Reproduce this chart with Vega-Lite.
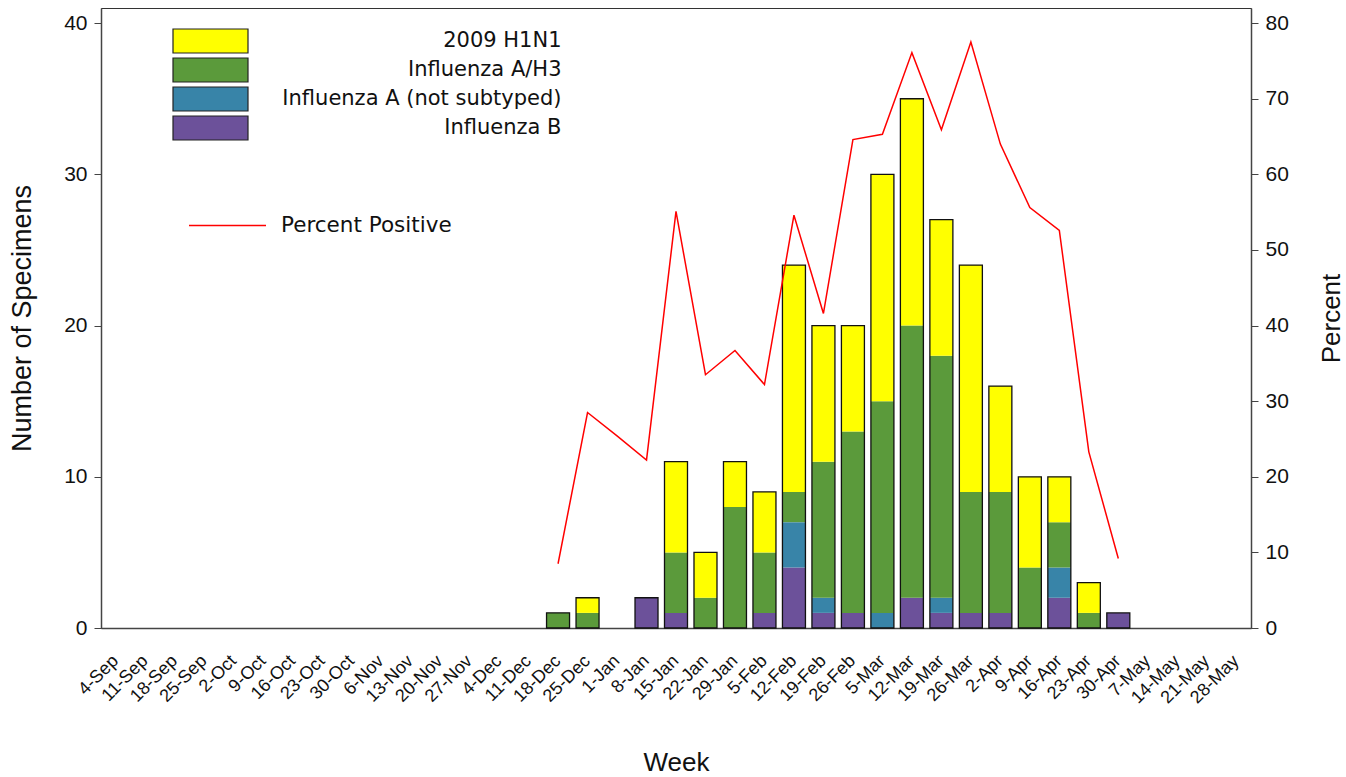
{
  "$schema": "https://vega.github.io/schema/vega-lite/v6.json",
  "autosize": {"type": "none"},
  "padding": {"left": 101, "top": 8, "right": 95, "bottom": 149},
  "width": 1150,
  "height": 620,
  "config": {
    "view": {"stroke": "#333333", "strokeWidth": 1},
    "axis": {"labelFont": "Liberation Sans", "titleFont": "Liberation Sans", "domainColor": "#444444", "tickColor": "#444444", "labelColor": "#111111", "titleColor": "#111111", "titleFontWeight": "normal", "grid": false},
    "legend": {"labelFont": "DejaVu Sans", "labelColor": "#111111"}
  },
  "datasets": {
    "counts": [
      {"week": "18-Dec", "type": "Influenza A/H3", "count": 1},
      {"week": "25-Dec", "type": "Influenza A/H3", "count": 1},
      {"week": "25-Dec", "type": "2009 H1N1", "count": 1},
      {"week": "8-Jan", "type": "Influenza B", "count": 2},
      {"week": "15-Jan", "type": "Influenza B", "count": 1},
      {"week": "15-Jan", "type": "Influenza A/H3", "count": 4},
      {"week": "15-Jan", "type": "2009 H1N1", "count": 6},
      {"week": "22-Jan", "type": "Influenza A/H3", "count": 2},
      {"week": "22-Jan", "type": "2009 H1N1", "count": 3},
      {"week": "29-Jan", "type": "Influenza A/H3", "count": 8},
      {"week": "29-Jan", "type": "2009 H1N1", "count": 3},
      {"week": "5-Feb", "type": "Influenza B", "count": 1},
      {"week": "5-Feb", "type": "Influenza A/H3", "count": 4},
      {"week": "5-Feb", "type": "2009 H1N1", "count": 4},
      {"week": "12-Feb", "type": "Influenza B", "count": 4},
      {"week": "12-Feb", "type": "Influenza A (not subtyped)", "count": 3},
      {"week": "12-Feb", "type": "Influenza A/H3", "count": 2},
      {"week": "12-Feb", "type": "2009 H1N1", "count": 15},
      {"week": "19-Feb", "type": "Influenza B", "count": 1},
      {"week": "19-Feb", "type": "Influenza A (not subtyped)", "count": 1},
      {"week": "19-Feb", "type": "Influenza A/H3", "count": 9},
      {"week": "19-Feb", "type": "2009 H1N1", "count": 9},
      {"week": "26-Feb", "type": "Influenza B", "count": 1},
      {"week": "26-Feb", "type": "Influenza A/H3", "count": 12},
      {"week": "26-Feb", "type": "2009 H1N1", "count": 7},
      {"week": "5-Mar", "type": "Influenza A (not subtyped)", "count": 1},
      {"week": "5-Mar", "type": "Influenza A/H3", "count": 14},
      {"week": "5-Mar", "type": "2009 H1N1", "count": 15},
      {"week": "12-Mar", "type": "Influenza B", "count": 2},
      {"week": "12-Mar", "type": "Influenza A/H3", "count": 18},
      {"week": "12-Mar", "type": "2009 H1N1", "count": 15},
      {"week": "19-Mar", "type": "Influenza B", "count": 1},
      {"week": "19-Mar", "type": "Influenza A (not subtyped)", "count": 1},
      {"week": "19-Mar", "type": "Influenza A/H3", "count": 16},
      {"week": "19-Mar", "type": "2009 H1N1", "count": 9},
      {"week": "26-Mar", "type": "Influenza B", "count": 1},
      {"week": "26-Mar", "type": "Influenza A/H3", "count": 8},
      {"week": "26-Mar", "type": "2009 H1N1", "count": 15},
      {"week": "2-Apr", "type": "Influenza B", "count": 1},
      {"week": "2-Apr", "type": "Influenza A/H3", "count": 8},
      {"week": "2-Apr", "type": "2009 H1N1", "count": 7},
      {"week": "9-Apr", "type": "Influenza A/H3", "count": 4},
      {"week": "9-Apr", "type": "2009 H1N1", "count": 6},
      {"week": "16-Apr", "type": "Influenza B", "count": 2},
      {"week": "16-Apr", "type": "Influenza A (not subtyped)", "count": 2},
      {"week": "16-Apr", "type": "Influenza A/H3", "count": 3},
      {"week": "16-Apr", "type": "2009 H1N1", "count": 3},
      {"week": "23-Apr", "type": "Influenza A/H3", "count": 1},
      {"week": "23-Apr", "type": "2009 H1N1", "count": 2},
      {"week": "30-Apr", "type": "Influenza B", "count": 1}
    ],
    "pct": [
      {"week": "18-Dec", "pct": 8.5},
      {"week": "25-Dec", "pct": 28.5},
      {"week": "1-Jan", "pct": 25.4},
      {"week": "8-Jan", "pct": 22.2},
      {"week": "15-Jan", "pct": 55.1},
      {"week": "22-Jan", "pct": 33.5},
      {"week": "29-Jan", "pct": 36.7},
      {"week": "5-Feb", "pct": 32.2},
      {"week": "12-Feb", "pct": 54.6},
      {"week": "19-Feb", "pct": 41.6},
      {"week": "26-Feb", "pct": 64.6},
      {"week": "5-Mar", "pct": 65.3},
      {"week": "12-Mar", "pct": 76.1},
      {"week": "19-Mar", "pct": 65.9},
      {"week": "26-Mar", "pct": 77.5},
      {"week": "2-Apr", "pct": 64.0},
      {"week": "9-Apr", "pct": 55.6},
      {"week": "16-Apr", "pct": 52.6},
      {"week": "23-Apr", "pct": 23.3},
      {"week": "30-Apr", "pct": 9.2}
    ]
  },
  "encoding": {
    "x": {
      "field": "week", "type": "ordinal",
      "scale": {
        "domain": ["4-Sep","11-Sep","18-Sep","25-Sep","2-Oct","9-Oct","16-Oct","23-Oct","30-Oct","6-Nov","13-Nov","20-Nov","27-Nov","4-Dec","11-Dec","18-Dec","25-Dec","1-Jan","8-Jan","15-Jan","22-Jan","29-Jan","5-Feb","12-Feb","19-Feb","26-Feb","5-Mar","12-Mar","19-Mar","26-Mar","2-Apr","9-Apr","16-Apr","23-Apr","30-Apr","7-May","14-May","21-May","28-May"],
        "paddingInner": 0.22, "paddingOuter": 0.11
      },
      "axis": {"title": "Week", "titleFontSize": 26, "titleY": 134, "titleBaseline": "middle", "labelAngle": -45, "labelAlign": "right", "labelBaseline": "middle", "labelFontSize": 18, "labelPadding": 30, "ticks": false, "domainWidth": 1.5}
    }
  },
  "layer": [
    {
      "layer": [
        {
          "data": {"name": "counts"},
          "transform": [{"calculate": "indexof(['Influenza B','Influenza A (not subtyped)','Influenza A/H3','2009 H1N1'], datum.type)", "as": "stackOrder"}],
          "mark": {"type": "bar"},
          "encoding": {
            "y": {"field": "count", "type": "quantitative", "stack": "zero",
              "scale": {"domain": [0, 41], "nice": false},
              "axis": {"title": "Number of Specimens", "values": [0, 10, 20, 30, 40], "titleFontSize": 27, "titleX": -79, "titleY": 310, "titleAngle": 270, "titleBaseline": "middle", "titleAlign": "center", "labelFontSize": 21, "tickSize": 7, "labelPadding": 7, "domainWidth": 1.5}},
            "color": {"field": "type", "type": "nominal",
              "scale": {"domain": ["2009 H1N1", "Influenza A/H3", "Influenza A (not subtyped)", "Influenza B"], "range": ["#FFFF00", "#5B9A3B", "#3884A8", "#6C519A"]},
              "legend": {"title": null, "orient": "none", "legendX": 96.5, "legendY": 20, "padding": 0, "symbolType": "M-3.125,-1H3.125V1H-3.125Z", "symbolSize": 576, "symbolStrokeColor": "#222222", "symbolStrokeWidth": 1.2, "symbolOpacity": 1, "labelAlign": "right", "labelOffset": 338, "labelFontSize": 21, "rowPadding": -1, "labelLimit": 400}},
            "order": {"field": "stackOrder", "type": "quantitative"}
          }
        },
        {
          "data": {"name": "counts"},
          "transform": [{"aggregate": [{"op": "sum", "field": "count", "as": "total"}], "groupby": ["week"]}],
          "mark": {"type": "bar", "fill": null, "fillOpacity": 0, "stroke": "#111111", "strokeWidth": 1.3},
          "encoding": {
            "y": {"field": "total", "type": "quantitative", "scale": {"domain": [0, 41], "nice": false},
              "axis": {"title": "Number of Specimens", "values": [0, 10, 20, 30, 40], "titleFontSize": 27, "titleX": -79, "titleY": 310, "titleAngle": 270, "titleBaseline": "middle", "titleAlign": "center", "labelFontSize": 21, "tickSize": 7, "labelPadding": 7, "domainWidth": 1.5}}
          }
        }
      ]
    },
    {
      "data": {"name": "pct"},
      "mark": {"type": "line", "strokeWidth": 1.5},
      "encoding": {
        "y": {"field": "pct", "type": "quantitative",
          "scale": {"domain": [0, 82], "nice": false},
          "axis": {"orient": "right", "title": "Percent", "values": [0, 10, 20, 30, 40, 50, 60, 70, 80], "titleFontSize": 26, "titleX": 80, "titleY": 310, "titleAngle": 270, "titleBaseline": "middle", "titleAlign": "center", "labelFontSize": 21, "tickSize": 7, "labelPadding": 7, "domainWidth": 1.5}},
        "stroke": {"datum": "Percent Positive", "type": "nominal",
          "scale": {"range": ["#FF0000"]},
          "legend": {"title": null, "orient": "none", "legendX": 87, "legendY": 178, "padding": 0, "symbolType": "stroke", "symbolSize": 5929, "symbolStrokeWidth": 1.5, "labelFontSize": 21.5, "labelOffset": 14, "labelLimit": 400}}
      }
    }
  ],
  "resolve": {"scale": {"y": "independent"}}
}
